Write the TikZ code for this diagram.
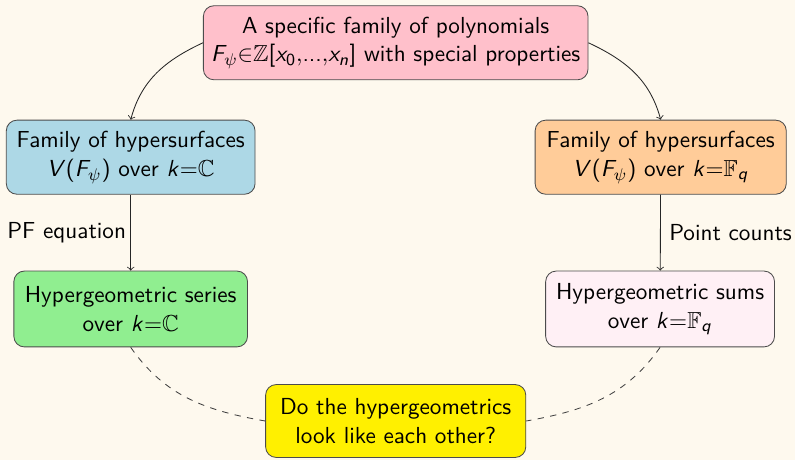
\documentclass[tikz,border=0pt,11pt]{standalone}
\usepackage{amssymb}
% sans serif math letters, as on the slide
\DeclareSymbolFont{sfletters}{OT1}{cmss}{m}{sl}
\DeclareSymbolFont{sfdigits}{OT1}{cmss}{m}{n}
\DeclareMathSymbol{F}{\mathalpha}{sfletters}{`F}
\DeclareMathSymbol{V}{\mathalpha}{sfletters}{`V}
\DeclareMathSymbol{k}{\mathalpha}{sfletters}{`k}
\DeclareMathSymbol{x}{\mathalpha}{sfletters}{`x}
\DeclareMathSymbol{n}{\mathalpha}{sfletters}{`n}
\DeclareMathSymbol{q}{\mathalpha}{sfletters}{`q}
\DeclareMathSymbol{0}{\mathalpha}{sfdigits}{`0}
\DeclareMathSymbol{.}{\mathord}{sfdigits}{`.}
\DeclareMathSymbol{(}{\mathopen}{sfdigits}{`(}
\DeclareMathSymbol{)}{\mathclose}{sfdigits}{`)}
\DeclareMathSymbol{[}{\mathopen}{sfdigits}{`[}
\DeclareMathSymbol{]}{\mathclose}{sfdigits}{`]}
\DeclareMathSymbol{=}{\mathrel}{sfdigits}{`=}
\definecolor{bgcream}{RGB}{254,249,238}
\definecolor{polypink}{RGB}{255,192,203}
\definecolor{cblue}{RGB}{173,216,230}
\definecolor{fqpeach}{RGB}{255,204,153}
\definecolor{serisgreen}{RGB}{144,238,144}
\definecolor{sumspink}{RGB}{255,240,245}
\definecolor{askyellow}{RGB}{255,240,0}
\begin{document}
	\begin{tikzpicture}[
		every node/.style={font=\sffamily, text=black},
		box/.style={rectangle, rounded corners=5pt, draw=black!70, align=center, minimum height=1.23cm}
	]
		% Background
		\fill[bgcream] (0,0) rectangle (13.2,-7.64);
		\useasboundingbox (0,0) rectangle (13.2,-7.64);
		
		% Top
		\node[box, fill=polypink, minimum width=6.27cm] (poly) at (6.57,-0.71) {A specific family of polynomials\\$F_\psi{\in}\mathbb{Z}[x_0{,}...{,}x_n]$ with special properties};
		
		% Hypersurfaces
		\node[box, fill=cblue, minimum width=4.13cm] (hypc) at (2.17,-2.61) {Family of hypersurfaces\\$V(F_\psi)$ over $k{=}\mathbb{C}$};
		\node[box, fill=fqpeach, minimum width=4.17cm] (hypq) at (10.97,-2.61) {Family of hypersurfaces\\$V(F_\psi)$ over $k{=}\mathbb{F}_q$};
		
		% Hypergeometrics
		\node[box, fill=serisgreen, minimum width=3.88cm, minimum height=1.26cm] (serc) at (2.17,-5.13) {Hypergeometric series\\over $k{=}\mathbb{C}$};
		\node[box, fill=sumspink, minimum width=3.80cm, minimum height=1.26cm] (sumq) at (10.96,-5.13) {Hypergeometric sums\\over $k{=}\mathbb{F}_q$};
		
		% Question
		\node[box, fill=askyellow, minimum width=4.32cm, minimum height=1.21cm] (ask) at (6.57,-6.99) {Do the hypergeometrics\\look like each other?};
		
		% Edges
		\draw[->, black!85] (poly.west) to[out=205, in=75] (hypc.north);
		\draw[->, black!85] (poly.east) to[out=-25, in=105] (hypq.north);
		\draw[->, black!85] (hypc) -- node[left, inner sep=2pt] {PF equation} (serc);
		\draw[->, black!85] (hypq) -- node[right, inner sep=4pt] {Point counts} (sumq);
		\draw[dashed, black!75] (serc.south) to[out=-55, in=170] (ask.west);
		\draw[dashed, black!75] (sumq.south) to[out=-125, in=10] (ask.east);
	\end{tikzpicture}
\end{document}
